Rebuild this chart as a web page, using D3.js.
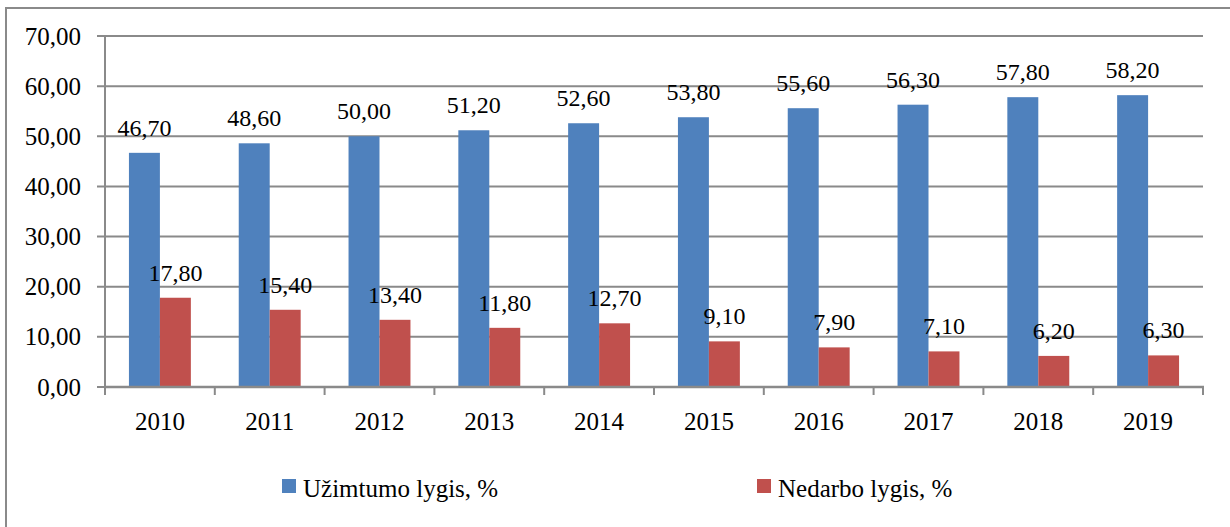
<!DOCTYPE html>
<html lang="lt">
<head>
    <meta charset="UTF-8">
    <title>Užimtumo ir nedarbo lygis</title>
    <style type="text/css">
        * {
            margin: 0;
            padding: 0;
        }

        body {
            background: #fff;
        }

        #chart-area {
            width: 1230px;
            height: 527px;
            overflow: hidden;
        }

        svg text {
            font-family: "Liberation Serif", serif;
            fill: #000;
        }
    </style>
</head>
<body>
<div id="chart-area"></div>
<script src="https://cdn.jsdelivr.net/npm/d3@7"></script>
<script type="text/javascript">

  const WIDTH = 1230
  const HEIGHT = 527

  const years = ['2010', '2011', '2012', '2013', '2014', '2015', '2016', '2017', '2018', '2019']
  const employment = [46.70, 48.60, 50.00, 51.20, 52.60, 53.80, 55.60, 56.30, 57.80, 58.20]
  const unemployment = [17.80, 15.40, 13.40, 11.80, 12.70, 9.10, 7.90, 7.10, 6.20, 6.30]
  const seriesNames = ['Užimtumo lygis, %', 'Nedarbo lygis, %']
  const yTicks = [0, 10, 20, 30, 40, 50, 60, 70]

  const colors = ['#4f81bd', '#c0504d']
  const gridColor = '#8a8a8a'

  const plot = {left: 105, right: 1203, top: 36, bottom: 387}

  const svg = d3.select('#chart-area').append('svg')
      .attr('width', WIDTH)
      .attr('height', HEIGHT)

  // outer frame (goes past the right and bottom edge)
  svg.append('rect')
      .attr('x', 6)
      .attr('y', 8)
      .attr('width', WIDTH + 20)
      .attr('height', HEIGHT + 20)
      .attr('fill', 'none')
      .attr('stroke', gridColor)
      .attr('stroke-width', 2)

  const x0 = d3.scaleBand()
      .domain(years)
      .range([plot.left, plot.right])
      .padding(0)

  const step = x0.step()
  const gap = step * 0.218
  const x1 = d3.scaleBand()
      .domain([0, 1])
      .range([gap, step - gap])
      .padding(0)

  const y = d3.scaleLinear()
      .domain([0, 70])
      .range([plot.bottom, plot.top])

  const fmt = (v) => d3.format('.2f')(v).replace('.', ',')

  // grid lines + y ticks
  svg.selectAll('line.grid')
      .data(yTicks.filter((d) => d > 0))
      .enter()
      .append('line')
      .attr('x1', plot.left - 8)
      .attr('x2', plot.right)
      .attr('y1', (d) => y(d))
      .attr('y2', (d) => y(d))
      .attr('stroke', gridColor)
      .attr('stroke-width', 2)

  svg.append('line')
      .attr('x1', plot.left - 8)
      .attr('x2', plot.left)
      .attr('y1', y(0))
      .attr('y2', y(0))
      .attr('stroke', gridColor)
      .attr('stroke-width', 2)

  svg.selectAll('text.ytick')
      .data(yTicks)
      .enter()
      .append('text')
      .attr('x', 81)
      .attr('y', (d) => y(d))
      .attr('dy', '0.34em')
      .attr('text-anchor', 'end')
      .style('font-size', '25px')
      .text(fmt)

  // bars
  const points = []
  years.forEach((yr, i) => {
    points.push({year: yr, k: 0, v: employment[i]})
    points.push({year: yr, k: 1, v: unemployment[i]})
  })

  svg.selectAll('rect.bar')
      .data(points)
      .enter()
      .append('rect')
      .attr('x', (d) => x0(d.year) + x1(d.k))
      .attr('y', (d) => y(d.v))
      .attr('width', x1.bandwidth())
      .attr('height', (d) => y(0) - y(d.v))
      .attr('fill', (d) => colors[d.k])

  svg.selectAll('text.value')
      .data(points)
      .enter()
      .append('text')
      .attr('x', (d) => x0(d.year) + x1(d.k) + x1.bandwidth() / 2)
      .attr('y', (d) => y(d.v) - 17)
      .attr('text-anchor', 'middle')
      .style('font-size', '24px')
      .text((d) => fmt(d.v))

  // axis lines
  svg.append('line')
      .attr('x1', plot.left)
      .attr('x2', plot.left)
      .attr('y1', plot.top)
      .attr('y2', plot.bottom + 8)
      .attr('stroke', gridColor)
      .attr('stroke-width', 2)

  svg.append('line')
      .attr('x1', plot.left)
      .attr('x2', plot.right + 1)
      .attr('y1', y(0))
      .attr('y2', y(0))
      .attr('stroke', gridColor)
      .attr('stroke-width', 2.5)

  const boundaries = years.map((yr) => x0(yr)).concat([plot.right])
  svg.selectAll('line.xtick')
      .data(boundaries)
      .enter()
      .append('line')
      .attr('x1', (d) => d)
      .attr('x2', (d) => d)
      .attr('y1', y(0))
      .attr('y2', y(0) + 8)
      .attr('stroke', gridColor)
      .attr('stroke-width', 2)

  svg.selectAll('text.xlabel')
      .data(years)
      .enter()
      .append('text')
      .attr('x', (d) => x0(d) + step / 2)
      .attr('y', 430)
      .attr('text-anchor', 'middle')
      .style('font-size', '25px')
      .text((d) => d)

  // legend
  const legendX = [282, 757]
  svg.selectAll('rect.legend')
      .data(seriesNames)
      .enter()
      .append('rect')
      .attr('x', (d, i) => legendX[i])
      .attr('y', 479)
      .attr('width', 14)
      .attr('height', 14)
      .attr('fill', (d, i) => colors[i])

  svg.selectAll('text.legend')
      .data(seriesNames)
      .enter()
      .append('text')
      .attr('x', (d, i) => legendX[i] + 21)
      .attr('y', 497)
      .style('font-size', '25px')
      .text((d) => d)

</script>
</body>
</html>
